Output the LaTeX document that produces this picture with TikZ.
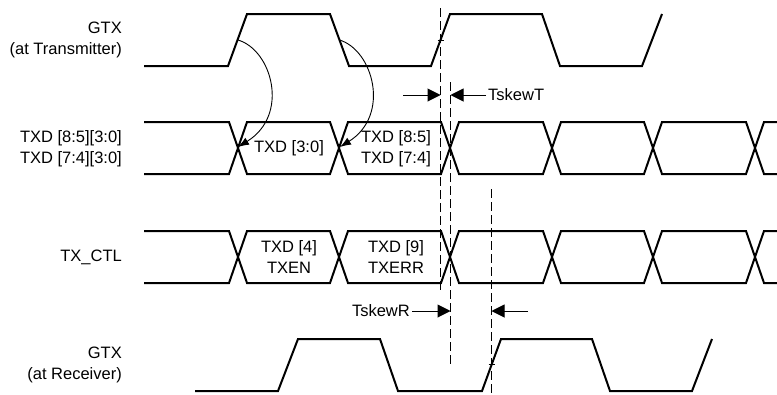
\documentclass[tikz,border=0pt]{standalone}
\usepackage{fontspec}
\setmainfont{Liberation Sans}
\usetikzlibrary{arrows.meta}

\begin{document}
\begin{tikzpicture}[x=1pt,y=-1pt,
    wave/.style={line width=2pt},
    guide/.style={line width=1.1pt,dash pattern=on 9pt off 4pt},
    skew/.style={line width=1pt,-{Triangle[length=13pt,width=13pt]}},
    launch/.style={line width=0.9pt,-{Latex[length=11pt,width=8pt]}},
    every node/.style={font=\fontsize{16.5}{20.5}\selectfont}]
    \useasboundingbox (0,0) rectangle (777,394);
    % Labels
    \node[anchor=east,align=right,inner sep=0] (LGTXT) at (122,40) {GTX\\(at Transmitter)};
    \node[anchor=east,align=right,inner sep=0] (LTXD) at (122,148.5) {TXD [8:5][3:0]\\TXD [7:4][3:0]};
    \node[anchor=east,align=right,inner sep=0] (LCTL) at (122,257) {TX\_CTL};
    \node[anchor=east,align=right,inner sep=0] (LGTXR) at (122,365) {GTX\\(at Receiver)};
    % GTX at Transmitter
    \draw[wave] (144,66) -- (228,66) -- (247,14) -- (330,14) -- (349,66) -- (431,66)
        -- (450,14) -- (542,14) -- (560,66) -- (642,66) -- (662,14);
    % TXD bus
    \draw[wave] (144,122) -- (229,122) -- (247,174) -- (330,174) -- (348,122) -- (441,122)
        -- (459,174) -- (543,174) -- (561,122) -- (644,122) -- (662,174) -- (746,174)
        -- (764,122) -- (777,122);
    \draw[wave] (144,174) -- (229,174) -- (247,122) -- (330,122) -- (348,174) -- (441,174)
        -- (459,122) -- (543,122) -- (561,174) -- (644,174) -- (662,122) -- (746,122)
        -- (764,174) -- (777,174);
    \node (D1) at (289,148) {TXD [3:0]};
    \node[align=center] (D2) at (396,148.5) {TXD [8:5]\\TXD [7:4]};
    % TX_CTL bus
    \draw[wave] (144,231) -- (229,231) -- (247,283) -- (330,283) -- (348,231) -- (441,231)
        -- (459,283) -- (543,283) -- (561,231) -- (644,231) -- (662,283) -- (746,283)
        -- (764,231) -- (777,231);
    \draw[wave] (144,283) -- (229,283) -- (247,231) -- (330,231) -- (348,283) -- (441,283)
        -- (459,231) -- (543,231) -- (561,283) -- (644,283) -- (662,231) -- (746,231)
        -- (764,283) -- (777,283);
    \node[align=center] (C1) at (289,257) {TXD [4]\\TXEN};
    \node[align=center] (C2) at (396,257) {TXD [9]\\TXERR};
    % GTX at Receiver
    \draw[wave] (195,391) -- (278,391) -- (298,339) -- (380,339) -- (398,391) -- (482,391)
        -- (501,339) -- (592,339) -- (610,391) -- (692,391) -- (712,339);
    % Guides
    \coordinate (G1a) at (440.5,8);  \coordinate (G1b) at (440.5,290);
    \coordinate (G2a) at (450.5,82); \coordinate (G2b) at (450.5,365);
    \coordinate (G3a) at (491.5,189);  \coordinate (G3b) at (491.5,394);
    \draw[guide] (G1a) -- (G1b);
    \draw[guide] (G2a) -- (G2b);
    \draw[guide] (G3a) -- (G3b);
    \draw[line width=1pt] (437.5,40) -- (444,40);
    \draw[line width=1pt] (488.5,364) -- (494.5,364);
    % Launch edges
    \coordinate (E1) at (238,40);  \coordinate (X1) at (238,147);
    \coordinate (E2) at (339.5,40); \coordinate (X2) at (340,147);
    \draw[launch] (E1) .. controls (272,50) and (290,115) .. (X1);
    \draw[launch] (E2) .. controls (373,50) and (391,115) .. (X2);
    % TskewT
    \coordinate (T1) at (403,95); \coordinate (T2) at (440.5,95); \coordinate (T3) at (450.5,95);
    \node[anchor=west,inner sep=2pt] (TskewT) at (486,95) {TskewT};
    \draw[skew] (T1) -- (T2);
    \draw[skew] (TskewT.west) -- (T3);
    % TskewR
    \coordinate (R1) at (450.5,311); \coordinate (R2) at (528,311); \coordinate (R3) at (491.5,311);
    \node[anchor=east,inner sep=2pt] (TskewR) at (412,311) {TskewR};
    \draw[skew] (TskewR.east) -- (R1);
    \draw[skew] (R2) -- (R3);
\end{tikzpicture}
\end{document}
